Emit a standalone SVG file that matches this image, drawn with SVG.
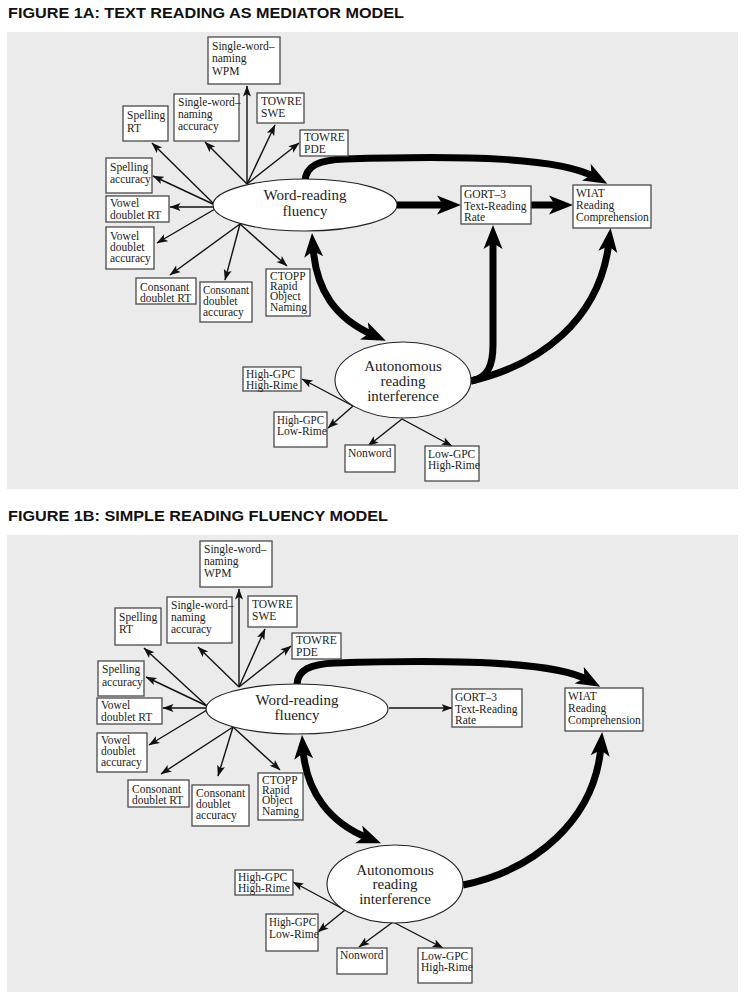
<svg xmlns="http://www.w3.org/2000/svg" width="749" height="1000" viewBox="0 0 749 1000">
<style>
.title{font-family:"Liberation Sans",Arial,sans-serif;font-weight:bold;font-size:15.5px;fill:#111}
.panel{fill:#ebebeb}
.box{fill:#fff;stroke:#4a4a4a;stroke-width:1.3}
.bt{font-family:"Liberation Serif","Times New Roman",serif;font-size:11.5px;fill:#222}
.ell{fill:#fff;stroke:#222;stroke-width:1.1}
.et{font-family:"Liberation Serif","Times New Roman",serif;font-size:15px;fill:#222;text-anchor:middle}
.thin{fill:none;stroke:#111;stroke-width:1.4;marker-end:url(#ah)}
.thick{fill:none;stroke:#000;stroke-width:7;marker-end:url(#AH)}
.dbl{fill:none;stroke:#000;stroke-width:7;marker-end:url(#AH);marker-start:url(#AHs)}
</style>
<defs>
<marker id="ah" markerUnits="userSpaceOnUse" markerWidth="12" markerHeight="10" viewBox="0 0 12 8" refX="10.5" refY="4" orient="auto"><path d="M0,0 L11,4 L0,8 L2.5,4 z" fill="#111"/></marker>
<marker id="AH" markerUnits="userSpaceOnUse" markerWidth="26" markerHeight="20" viewBox="0 0 26 20" refX="10" refY="10" orient="auto"><path d="M0,0.5 L24,10 L0,19.5 L6,10 z" fill="#000"/></marker>
<marker id="AHs" markerUnits="userSpaceOnUse" markerWidth="26" markerHeight="20" viewBox="0 0 26 20" refX="10" refY="10" orient="auto-start-reverse"><path d="M0,0.5 L24,10 L0,19.5 L6,10 z" fill="#000"/></marker>
</defs>

<!-- FIGURE 1A -->
<text class="title" x="8" y="18" textLength="396" lengthAdjust="spacingAndGlyphs">FIGURE 1A: TEXT READING AS MEDIATOR MODEL</text>
<rect class="panel" x="7" y="32" width="731" height="457"/>

<g id="connectors-1a">
<path class="thin" d="M247,184 L247,86"/>
<path class="thin" d="M247,184 L205,142"/>
<path class="thin" d="M247,184 L275,125"/>
<path class="thin" d="M247,184 L299,143"/>
<path class="thin" d="M215,205 L152,143"/>
<path class="thin" d="M215,205 L153,176"/>
<path class="thin" d="M215,207 L170,207"/>
<path class="thin" d="M215,209 L157,243"/>
<path class="thin" d="M240,224 L170,275"/>
<path class="thin" d="M240,224 L225,280"/>
<path class="thin" d="M240,224 L287,266"/>
<path class="thin" d="M353,406 L302,379"/>
<path class="thin" d="M353,406 L328,428"/>
<path class="thin" d="M402,419 L368,446"/>
<path class="thin" d="M402,419 L452,446"/>
<path class="thick" d="M305,181 C306,166 318,160 345,159 C470,155 560,158 595,177"/>
<path class="thick" d="M397,205 L447,205"/>
<path class="thick" d="M531,205 L559,205"/>
<path class="thick" d="M471,381 C488,378 493,365 493,345 L493,239"/>
<path class="thick" d="M471,381 C540,365 600,320 609,242"/>
<path class="dbl" d="M313,247 C316,290 335,318 373,335"/>
</g>

<g id="n1a-wrf"><ellipse class="ell" cx="305" cy="205" rx="92" ry="26"/><text class="et" x="305" y="200">Word-reading</text><text class="et" x="305" y="216">fluency</text></g>
<g id="n1a-ari"><ellipse class="ell" cx="403" cy="380" rx="68" ry="38"/><text class="et" x="403" y="371">Autonomous</text><text class="et" x="403" y="386">reading</text><text class="et" x="403" y="401">interference</text></g>

<g id="n1a-wpm"><rect class="box" x="208" y="37" width="72" height="47"/><text class="bt" x="212" y="50">Single-word–</text><text class="bt" x="212" y="62">naming</text><text class="bt" x="212" y="75">WPM</text></g>
<g id="n1a-swacc"><rect class="box" x="174" y="94" width="65" height="47"/><text class="bt" x="178" y="106">Single-word–</text><text class="bt" x="178" y="118">naming</text><text class="bt" x="178" y="130">accuracy</text></g>
<g id="n1a-swe"><rect class="box" x="257" y="93" width="47" height="30"/><text class="bt" x="261" y="105">TOWRE</text><text class="bt" x="261" y="117">SWE</text></g>
<g id="n1a-pde"><rect class="box" x="300" y="130" width="48" height="26"/><text class="bt" x="304" y="141">TOWRE</text><text class="bt" x="304" y="153">PDE</text></g>
<g id="n1a-sprt"><rect class="box" x="123" y="106" width="45" height="35"/><text class="bt" x="127" y="119">Spelling</text><text class="bt" x="127" y="132">RT</text></g>
<g id="n1a-spacc"><rect class="box" x="106" y="158" width="46" height="35"/><text class="bt" x="110" y="171">Spelling</text><text class="bt" x="110" y="183">accuracy</text></g>
<g id="n1a-vrt"><rect class="box" x="106" y="196" width="63" height="26"/><text class="bt" x="110" y="207">Vowel</text><text class="bt" x="110" y="219">doublet RT</text></g>
<g id="n1a-vacc"><rect class="box" x="106" y="227" width="48" height="42"/><text class="bt" x="110" y="240">Vowel</text><text class="bt" x="110" y="251">doublet</text><text class="bt" x="110" y="262">accuracy</text></g>
<g id="n1a-crt"><rect class="box" x="136" y="278" width="60" height="26"/><text class="bt" x="140" y="291">Consonant</text><text class="bt" x="140" y="302">doublet RT</text></g>
<g id="n1a-cacc"><rect class="box" x="200" y="282" width="52" height="40"/><text class="bt" x="203" y="294" textLength="46" lengthAdjust="spacingAndGlyphs">Consonant</text><text class="bt" x="203" y="305">doublet</text><text class="bt" x="203" y="316">accuracy</text></g>
<g id="n1a-ctopp"><rect class="box" x="266" y="269" width="44" height="47"/><text class="bt" x="270" y="280">CTOPP</text><text class="bt" x="270" y="290">Rapid</text><text class="bt" x="270" y="300">Object</text><text class="bt" x="270" y="311">Naming</text></g>
<g id="n1a-gort"><rect class="box" x="461" y="186" width="70" height="38"/><text class="bt" x="464" y="198">GORT–3</text><text class="bt" x="464" y="210">Text-Reading</text><text class="bt" x="464" y="221">Rate</text></g>
<g id="n1a-wiat"><rect class="box" x="573" y="185" width="78" height="43"/><text class="bt" x="576" y="197">WIAT</text><text class="bt" x="576" y="209">Reading</text><text class="bt" x="576" y="221">Comprehension</text></g>
<g id="n1a-hh"><rect class="box" x="243" y="367" width="58" height="24"/><text class="bt" x="246" y="378">High-GPC</text><text class="bt" x="246" y="389">High-Rime</text></g>
<g id="n1a-hl"><rect class="box" x="274" y="412" width="53" height="35"/><text class="bt" x="277" y="424" textLength="47" lengthAdjust="spacingAndGlyphs">High-GPC</text><text class="bt" x="277" y="435">Low-Rime</text></g>
<g id="n1a-nw"><rect class="box" x="345" y="445" width="50" height="27"/><text class="bt" x="348" y="457">Nonword</text></g>
<g id="n1a-lh"><rect class="box" x="425" y="446" width="54" height="35"/><text class="bt" x="428" y="458">Low-GPC</text><text class="bt" x="428" y="469">High-Rime</text></g>

<!-- FIGURE 1B -->
<text class="title" x="8" y="521" textLength="380" lengthAdjust="spacingAndGlyphs">FIGURE 1B: SIMPLE READING FLUENCY MODEL</text>
<rect class="panel" x="7" y="535" width="731" height="457"/>

<g id="connectors-1b">
<path class="thin" d="M239,687 L239,589"/>
<path class="thin" d="M239,687 L198,647"/>
<path class="thin" d="M239,687 L265,629"/>
<path class="thin" d="M239,687 L291,646"/>
<path class="thin" d="M207,706 L144,648"/>
<path class="thin" d="M207,706 L146,677"/>
<path class="thin" d="M207,708 L163,708"/>
<path class="thin" d="M207,710 L149,745"/>
<path class="thin" d="M233,727 L161,774"/>
<path class="thin" d="M233,727 L218,776"/>
<path class="thin" d="M233,727 L280,770"/>
<path class="thin" d="M345,910 L293,882"/>
<path class="thin" d="M345,910 L318,932"/>
<path class="thin" d="M393,922 L359,947"/>
<path class="thin" d="M393,922 L443,948"/>
<path class="thin" d="M389,708 L452,708"/>
<path class="thick" d="M297,684 C298,670 310,664 335,663 C460,659 555,662 588,680"/>
<path class="thick" d="M463,885 C535,870 595,820 601,746"/>
<path class="dbl" d="M303,749 C306,792 330,823 368,838"/>
</g>

<g id="n1b-wrf"><ellipse class="ell" cx="297" cy="709" rx="91" ry="25"/><text class="et" x="297" y="705">Word-reading</text><text class="et" x="297" y="720">fluency</text></g>
<g id="n1b-ari"><ellipse class="ell" cx="395" cy="884" rx="68" ry="39"/><text class="et" x="395" y="875">Autonomous</text><text class="et" x="395" y="889">reading</text><text class="et" x="395" y="904">interference</text></g>

<g id="n1b-wpm"><rect class="box" x="200" y="541" width="72" height="46"/><text class="bt" x="204" y="553">Single-word–</text><text class="bt" x="204" y="565">naming</text><text class="bt" x="204" y="577">WPM</text></g>
<g id="n1b-swacc"><rect class="box" x="167" y="597" width="65" height="46"/><text class="bt" x="171" y="609">Single-word–</text><text class="bt" x="171" y="621">naming</text><text class="bt" x="171" y="633">accuracy</text></g>
<g id="n1b-swe"><rect class="box" x="248" y="596" width="49" height="31"/><text class="bt" x="252" y="608">TOWRE</text><text class="bt" x="252" y="620">SWE</text></g>
<g id="n1b-pde"><rect class="box" x="292" y="633" width="49" height="26"/><text class="bt" x="296" y="644">TOWRE</text><text class="bt" x="296" y="656">PDE</text></g>
<g id="n1b-sprt"><rect class="box" x="115" y="608" width="46" height="37"/><text class="bt" x="119" y="621">Spelling</text><text class="bt" x="119" y="633">RT</text></g>
<g id="n1b-spacc"><rect class="box" x="98" y="661" width="46" height="35"/><text class="bt" x="102" y="673">Spelling</text><text class="bt" x="102" y="686">accuracy</text></g>
<g id="n1b-vrt"><rect class="box" x="97" y="698" width="65" height="26"/><text class="bt" x="101" y="709">Vowel</text><text class="bt" x="101" y="721">doublet RT</text></g>
<g id="n1b-vacc"><rect class="box" x="97" y="733" width="50" height="39"/><text class="bt" x="101" y="744">Vowel</text><text class="bt" x="101" y="755">doublet</text><text class="bt" x="101" y="766">accuracy</text></g>
<g id="n1b-crt"><rect class="box" x="128" y="780" width="61" height="27"/><text class="bt" x="132" y="793">Consonant</text><text class="bt" x="132" y="804">doublet RT</text></g>
<g id="n1b-cacc"><rect class="box" x="192" y="785" width="57" height="41"/><text class="bt" x="196" y="797">Consonant</text><text class="bt" x="196" y="808">doublet</text><text class="bt" x="196" y="819">accuracy</text></g>
<g id="n1b-ctopp"><rect class="box" x="258" y="773" width="45" height="47"/><text class="bt" x="262" y="784">CTOPP</text><text class="bt" x="262" y="794">Rapid</text><text class="bt" x="262" y="804">Object</text><text class="bt" x="262" y="815">Naming</text></g>
<g id="n1b-gort"><rect class="box" x="452" y="689" width="70" height="38"/><text class="bt" x="455" y="701">GORT–3</text><text class="bt" x="455" y="713">Text-Reading</text><text class="bt" x="455" y="724">Rate</text></g>
<g id="n1b-wiat"><rect class="box" x="565" y="688" width="78" height="43"/><text class="bt" x="568" y="700">WIAT</text><text class="bt" x="568" y="712">Reading</text><text class="bt" x="568" y="724">Comprehension</text></g>
<g id="n1b-hh"><rect class="box" x="235" y="870" width="58" height="25"/><text class="bt" x="238" y="881">High-GPC</text><text class="bt" x="238" y="892">High-Rime</text></g>
<g id="n1b-hl"><rect class="box" x="266" y="914" width="52" height="37"/><text class="bt" x="269" y="926" textLength="47" lengthAdjust="spacingAndGlyphs">High-GPC</text><text class="bt" x="269" y="938">Low-Rime</text></g>
<g id="n1b-nw"><rect class="box" x="337" y="948" width="50" height="26"/><text class="bt" x="340" y="959">Nonword</text></g>
<g id="n1b-lh"><rect class="box" x="418" y="948" width="54" height="35"/><text class="bt" x="421" y="960">Low-GPC</text><text class="bt" x="421" y="971">High-Rime</text></g>
</svg>
